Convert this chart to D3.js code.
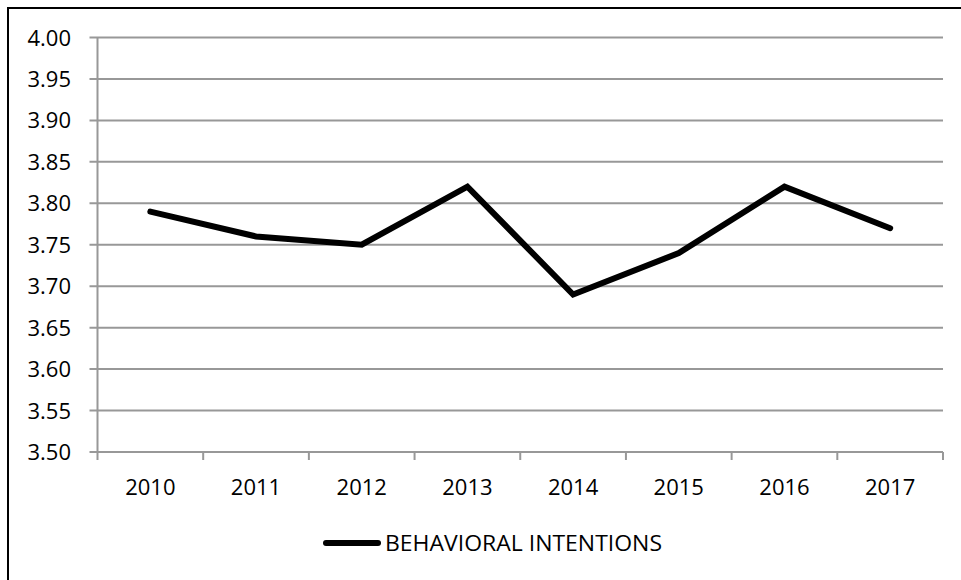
<!DOCTYPE html>
<html><head><meta charset="utf-8">
<script src="https://cdn.jsdelivr.net/npm/d3@7/dist/d3.min.js"></script>
<style>body{margin:0;background:#fff}svg{display:block}text{font-family:"Open Sans",sans-serif;fill:#000}</style>
</head><body>
<script>
const years = ["2010","2011","2012","2013","2014","2015","2016","2017"];
const values = [3.79,3.76,3.75,3.82,3.69,3.74,3.82,3.77];
const yTicks = [3.50,3.55,3.60,3.65,3.70,3.75,3.80,3.85,3.90,3.95,4.00];
const seriesName = "BEHAVIORAL INTENTIONS";

(function(){
const W=961,H=580;
const svg=d3.select("body").append("svg").attr("width",W).attr("height",H);
svg.append("rect").attr("x",8).attr("y",8).attr("width",W+20).attr("height",H+20)
  .attr("fill","none").attr("stroke","#000").attr("stroke-width",2);

const pL=97.5,pR=943,pT=37.5,pB=452;
const x=d3.scaleBand().domain(years).range([pL,pR]);
const y=d3.scaleLinear().domain([3.5,4.0]).range([pB,pT]);
const grid="#989898";

svg.append("g").selectAll("line").data(yTicks).join("line")
  .attr("x1",pL-8).attr("x2",pR).attr("y1",d=>y(d)).attr("y2",d=>y(d))
  .attr("stroke",grid).attr("stroke-width",2);
svg.append("line").attr("x1",pL).attr("x2",pL).attr("y1",pT).attr("y2",pB+8)
  .attr("stroke",grid).attr("stroke-width",2);
const xb=[...years.map(d=>x(d)),pR];
svg.append("g").selectAll("line").data(xb.slice(1)).join("line")
  .attr("x1",d=>d).attr("x2",d=>d).attr("y1",pB).attr("y2",pB+8)
  .attr("stroke",grid).attr("stroke-width",2);
svg.append("g").selectAll("text").data(yTicks).join("text")
  .attr("x",71).attr("y",d=>y(d)+8).attr("text-anchor","end")
  .style("font-size","22px").text(d=>d.toFixed(2));
svg.append("g").selectAll("text").data(years).join("text")
  .attr("x",d=>x(d)+x.bandwidth()/2).attr("y",495).attr("text-anchor","middle")
  .style("font-size","22px").text(d=>d);
const line=d3.line().x((d,i)=>x(years[i])+x.bandwidth()/2).y(d=>y(d));
svg.append("path").datum(values).attr("d",line).attr("fill","none")
  .attr("stroke","#000").attr("stroke-width",6).attr("stroke-linejoin","miter").attr("stroke-linecap","round");
svg.append("line").attr("x1",326).attr("x2",378).attr("y1",543).attr("y2",543)
  .attr("stroke","#000").attr("stroke-width",6).attr("stroke-linecap","round");
svg.append("text").attr("x",385).attr("y",551).style("font-size","22px")
  .attr("textLength",277).attr("lengthAdjust","spacingAndGlyphs").text(seriesName);
})();
</script>
</body></html>
